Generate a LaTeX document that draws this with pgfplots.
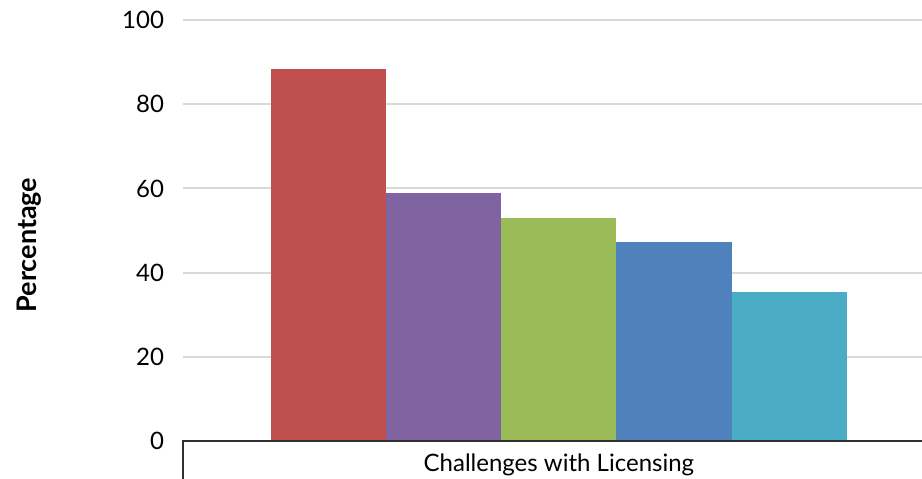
\documentclass[border=0pt]{standalone}
\usepackage{fontspec}
\setmainfont{Lato}
\usepackage{pgfplots}
\pgfplotsset{compat=1.18}

\definecolor{barRed}{HTML}{C0504D}
\definecolor{barPurple}{HTML}{8064A2}
\definecolor{barGreen}{HTML}{9BBB59}
\definecolor{barBlue}{HTML}{4F81BD}
\definecolor{barTeal}{HTML}{4BACC6}
\definecolor{gridGray}{HTML}{D9D9D9}
\definecolor{axisDark}{HTML}{303030}

\begin{document}
\begin{tikzpicture}
% fixed page frame around the plot area
\useasboundingbox (-91.5pt,-18.5pt) rectangle (369.5pt,220.5pt);
\begin{axis}[
  at={(0,0)}, anchor=south west,
  scale only axis,
  width=369.5pt, height=210.5pt,
  xmin=-1.263, xmax=5.152,
  ymin=0, ymax=100,
  ytick={0,20,40,60,80,100},
  xtick={2},
  xticklabels={Challenges with Licensing},
  major tick length=0pt,
  axis lines*=left,
  y axis line style={draw=none},
  x axis line style={draw=none},
  ymajorgrids,
  grid style={gridGray, line width=1pt},
  tick label style={font=\fontsize{12}{14}\selectfont, text=black},
  /pgf/number format/assume math mode=true,
  yticklabel style={xshift=-6pt},
  xticklabel style={yshift=-3pt},
  clip=false,
]
\addplot[ybar, bar width=1, bar shift=0pt, fill=barRed, draw=none] coordinates {(0,88.4)};
\addplot[ybar, bar width=1, bar shift=0pt, fill=barPurple, draw=none] coordinates {(1,58.9)};
\addplot[ybar, bar width=1, bar shift=0pt, fill=barGreen, draw=none] coordinates {(2,53.0)};
\addplot[ybar, bar width=1, bar shift=0pt, fill=barBlue, draw=none] coordinates {(3,47.2)};
\addplot[ybar, bar width=1, bar shift=0pt, fill=barTeal, draw=none] coordinates {(4,35.4)};
% baseline of the plot
\draw[axisDark, line width=1pt] (rel axis cs:0,0) -- (rel axis cs:1,0);
\end{axis}
% left edge of the category band
\draw[axisDark, line width=1pt] (0,0.5pt) -- (0,-20pt);
\node[rotate=90, font=\bfseries\fontsize{13.5}{15}\selectfont, text=black] at (-77pt,98pt) {Percentage};
\end{tikzpicture}
\end{document}
